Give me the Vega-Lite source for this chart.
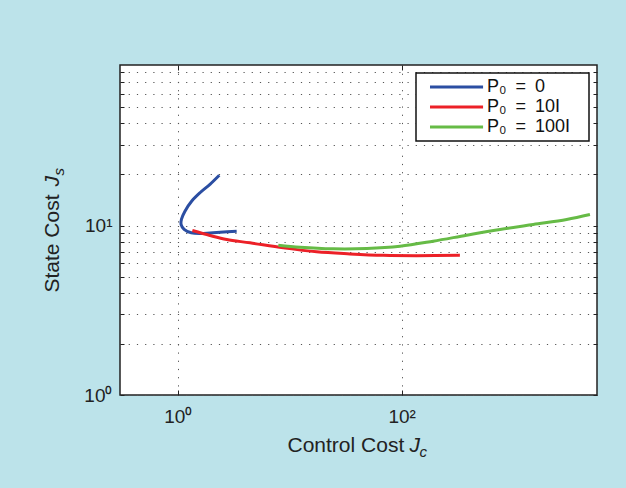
{
  "$schema": "https://vega.github.io/schema/vega-lite/v6.json",
  "width": 477,
  "height": 330,
  "autosize": {"type": "none"},
  "padding": {"left": 120, "top": 65, "right": 29, "bottom": 93},
  "background": "#bce3ea",
  "data": {
    "values": [
      {"series": "P₀ = 0", "step": 1, "Jc": 2.35, "Js": 19.8},
      {"series": "P₀ = 0", "step": 2, "Jc": 1.94, "Js": 17.5},
      {"series": "P₀ = 0", "step": 3, "Jc": 1.58, "Js": 15.6},
      {"series": "P₀ = 0", "step": 4, "Jc": 1.33, "Js": 13.9},
      {"series": "P₀ = 0", "step": 5, "Jc": 1.16, "Js": 12.15},
      {"series": "P₀ = 0", "step": 6, "Jc": 1.08, "Js": 10.9},
      {"series": "P₀ = 0", "step": 7, "Jc": 1.07, "Js": 10.15},
      {"series": "P₀ = 0", "step": 8, "Jc": 1.14, "Js": 9.5},
      {"series": "P₀ = 0", "step": 9, "Jc": 1.32, "Js": 9.07},
      {"series": "P₀ = 0", "step": 10, "Jc": 1.58, "Js": 8.97},
      {"series": "P₀ = 0", "step": 11, "Jc": 1.94, "Js": 9.04},
      {"series": "P₀ = 0", "step": 12, "Jc": 2.39, "Js": 9.13},
      {"series": "P₀ = 0", "step": 13, "Jc": 3.36, "Js": 9.25},
      {"series": "P₀ = 10I", "step": 1, "Jc": 1.35, "Js": 9.34},
      {"series": "P₀ = 10I", "step": 2, "Jc": 1.94, "Js": 8.73},
      {"series": "P₀ = 10I", "step": 3, "Jc": 2.74, "Js": 8.26},
      {"series": "P₀ = 10I", "step": 4, "Jc": 4.42, "Js": 7.9},
      {"series": "P₀ = 10I", "step": 5, "Jc": 8.77, "Js": 7.38},
      {"series": "P₀ = 10I", "step": 6, "Jc": 17.4, "Js": 6.99},
      {"series": "P₀ = 10I", "step": 7, "Jc": 34.5, "Js": 6.8},
      {"series": "P₀ = 10I", "step": 8, "Jc": 68.5, "Js": 6.67},
      {"series": "P₀ = 10I", "step": 9, "Jc": 136, "Js": 6.64},
      {"series": "P₀ = 10I", "step": 10, "Jc": 331, "Js": 6.67},
      {"series": "P₀ = 100I", "step": 1, "Jc": 7.91, "Js": 7.65},
      {"series": "P₀ = 100I", "step": 2, "Jc": 12.4, "Js": 7.44},
      {"series": "P₀ = 100I", "step": 3, "Jc": 24.5, "Js": 7.28},
      {"series": "P₀ = 100I", "step": 4, "Jc": 48.7, "Js": 7.31},
      {"series": "P₀ = 100I", "step": 5, "Jc": 96.6, "Js": 7.54},
      {"series": "P₀ = 100I", "step": 6, "Jc": 191, "Js": 8.08},
      {"series": "P₀ = 100I", "step": 7, "Jc": 380, "Js": 8.76},
      {"series": "P₀ = 100I", "step": 8, "Jc": 755, "Js": 9.47},
      {"series": "P₀ = 100I", "step": 9, "Jc": 1497, "Js": 10.14},
      {"series": "P₀ = 100I", "step": 10, "Jc": 2973, "Js": 10.85},
      {"series": "P₀ = 100I", "step": 11, "Jc": 4800, "Js": 11.6}
    ]
  },
  "layer": [
    {
      "transform": [{"filter": "datum.series === 'P₀ = 0'"}],
      "mark": {"type": "line", "strokeWidth": 3, "interpolate": "catmull-rom"},
      "encoding": {
        "x": {
          "field": "Jc", "type": "quantitative",
          "scale": {"type": "log", "domain": [0.305, 5550], "nice": false},
          "axis": {
            "orient": "bottom",
            "values": [1, 100],
            "labelExpr": "datum.value == 1 ? '10⁰' : '10²'",
            "grid": true, "gridDash": [1.2, 7], "gridColor": "#555",
            "tickSize": -5, "domain": false,
            "labelFontSize": 19, "labelPadding": 17,
            "title": "Control Cost", "titleFontSize": 21,
            "titleAlign": "left", "titleBaseline": "alphabetic",
            "titleX": 167, "titleY": 56
          }
        },
        "y": {
          "field": "Js", "type": "quantitative",
          "scale": {"type": "log", "domain": [1, 88.5], "nice": false},
          "axis": {
            "orient": "left",
            "values": [1, 2, 3, 4, 5, 6, 7, 8, 9, 10, 20, 30, 40, 50, 60, 70, 80],
            "labelExpr": "datum.value == 1 ? '10⁰' : datum.value == 10 ? '10¹' : ''",
            "grid": true, "gridDash": [1.2, 7], "gridColor": "#555",
            "tickSize": -4, "domain": false,
            "labelFontSize": 19, "labelPadding": 12,
            "title": "State Cost", "titleFontSize": 21,
            "titleAngle": 270, "titleAlign": "left", "titleBaseline": "alphabetic",
            "titleX": -62, "titleY": 227
          }
        },
        "color": {
          "field": "series", "type": "nominal",
          "scale": {
            "domain": ["P₀ = 0", "P₀ = 10I", "P₀ = 100I"],
            "range": ["#2b4ea2", "#ec2027", "#66bb46"]
          },
          "legend": {
            "orient": "top-right", "offset": 8, "title": null,
            "fillColor": "white", "strokeColor": "#111",
            "padding": 5, "rowPadding": 2,
            "symbolType": "M0,0H8", "symbolSize": 176, "symbolStrokeWidth": 3,
            "labelExpr": "replace(datum.label, ' = ', '\u2002=\u2002') + '\u2800'",
            "labelFontSize": 18, "labelOffset": 48, "labelColor": "#111",
            "labelFont": "Liberation Sans"
          }
        },
        "order": {"field": "step", "type": "quantitative"}
      }
    },
    {
      "transform": [{"filter": "datum.series === 'P₀ = 10I'"}],
      "mark": {"type": "line", "strokeWidth": 3, "interpolate": "catmull-rom"},
      "encoding": {
        "x": {
          "field": "Jc", "type": "quantitative",
          "axis": {
            "orient": "top", "values": [1, 100], "labels": false,
            "grid": false, "domain": false, "tickSize": -5,
            "title": "J", "titleFontSize": 21, "titleFontStyle": "italic",
            "titleAlign": "left", "titleBaseline": "alphabetic",
            "titleX": 289, "titleY": 386
          }
        },
        "y": {
          "field": "Js", "type": "quantitative",
          "axis": {
            "orient": "right",
            "values": [1, 2, 3, 4, 5, 6, 7, 8, 9, 10, 20, 30, 40, 50, 60, 70, 80],
            "labels": false, "grid": false, "domain": false, "tickSize": -4,
            "title": "J", "titleFontSize": 21, "titleFontStyle": "italic",
            "titleAngle": 270, "titleAlign": "left", "titleBaseline": "alphabetic",
            "titleX": -539, "titleY": 121
          }
        },
        "color": {"field": "series", "type": "nominal"},
        "order": {"field": "step", "type": "quantitative"}
      }
    },
    {
      "transform": [{"filter": "datum.series === 'P₀ = 100I'"}],
      "mark": {"type": "line", "strokeWidth": 3, "interpolate": "catmull-rom"},
      "encoding": {
        "x": {
          "field": "Jc", "type": "quantitative",
          "axis": {
            "orient": "bottom", "values": [], "labels": false,
            "grid": false, "domain": false, "ticks": false,
            "title": "c", "titleFontSize": 15, "titleFontStyle": "italic",
            "titleAlign": "left", "titleBaseline": "alphabetic",
            "titleX": 299, "titleY": 61
          }
        },
        "y": {
          "field": "Js", "type": "quantitative",
          "axis": {
            "orient": "left", "values": [], "labels": false,
            "grid": false, "domain": false, "ticks": false,
            "title": "s", "titleFontSize": 15, "titleFontStyle": "italic",
            "titleAngle": 270, "titleAlign": "left", "titleBaseline": "alphabetic",
            "titleX": -57, "titleY": 110
          }
        },
        "color": {"field": "series", "type": "nominal"},
        "order": {"field": "step", "type": "quantitative"}
      }
    }
  ],
  "resolve": {"axis": {"x": "independent", "y": "independent"}},
  "config": {
    "view": {"stroke": "#222", "strokeWidth": 1.5, "fill": "white"},
    "axis": {
      "labelFont": "Liberation Sans", "titleFont": "Liberation Sans",
      "labelColor": "#222", "titleColor": "#222", "tickColor": "#222",
      "titleFontWeight": "normal", "gridWidth": 1
    },
    "legend": {"labelFont": "Liberation Sans", "strokeWidth": 1.5}
  }
}
